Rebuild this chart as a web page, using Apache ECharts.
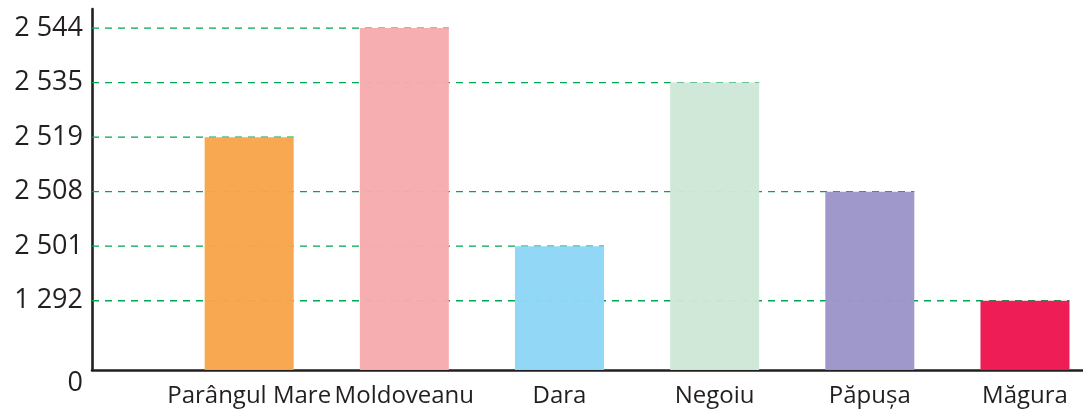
<!DOCTYPE html>
<html>
<head>
<meta charset="utf-8">
<script src="https://cdn.jsdelivr.net/npm/echarts@6/dist/echarts.min.js"></script>
<style>
html,body{margin:0;padding:0;background:#fff;}
#c{width:1083px;height:413px;}
</style>
</head>
<body>
<div id="c"></div>
<script>
// Data
const categories = ['Parângul Mare', 'Moldoveanu', 'Dara', 'Negoiu', 'Păpușa', 'Măgura'];
const heights = [2519, 2544, 2501, 2535, 2508, 1292];
const tickLabels = ['1 292', '2 501', '2 508', '2 519', '2 535', '2 544'];
const tickValues = [1292, 2501, 2508, 2519, 2535, 2544];
const colors = ['#F8A54B', '#F7ABAE', '#8ED7F6', '#CDE7D6', '#9C96C9', '#ED1651'];

// Ordinal height scale: each distinct height sits on its own evenly spaced level
const GAP0 = 1.27;
const levelOf = v => GAP0 + tickValues.indexOf(v);
const levelPositions = tickValues.map((v) => levelOf(v));
const BAR_W = 89;
// category slots are numbered from 1
const slotOf = i => i + 1;
const X_MIN = -0.013, X_MAX = 6.374;

const chart = echarts.init(document.getElementById('c'));
const FONT = '"Open Sans", "Noto Sans", sans-serif';

chart.setOption({
  animation: false,
  backgroundColor: '#fff',
  grid: { left: 92, right: 0, top: 9, bottom: 43 },
  xAxis: {
    type: 'value',
    min: X_MIN,
    max: X_MAX,
    splitLine: { show: false },
    axisTick: { show: false },
    axisLine: { show: true, onZero: false, lineStyle: { color: '#231f20', width: 2.6 } },
    axisLabel: {
      customValues: [X_MIN].concat(categories.map((c, i) => slotOf(i))),
      formatter: v => {
        const i = Math.round(v) - 1;
        return (Math.abs(v - Math.round(v)) < 1e-6 && categories[i]) ? categories[i] : ' ';
      },
      showMinLabel: true,
      showMaxLabel: true,
      color: '#231f20',
      fontSize: 24,
      fontFamily: FONT,
      margin: 14
    }
  },
  yAxis: {
    type: 'value',
    min: 0,
    max: GAP0 + tickValues.length - 1 + 0.35,
    splitLine: { show: false },
    axisTick: { show: false },
    axisLine: { show: true, onZero: false, lineStyle: { color: '#231f20', width: 2.6 } },
    axisLabel: {
      customValues: [0].concat(levelPositions),
      formatter: v => {
        if (v === 0) return '{z|0}';
        const i = Math.round(v - GAP0);
        return tickLabels[i];
      },
      showMinLabel: true,
      rich: { z: { fontSize: 27, fontFamily: FONT, color: '#231f20', padding: [26, 0, 0, 0] } },
      color: '#231f20',
      fontSize: 27,
      fontFamily: FONT,
      margin: 9
    }
  },
  series: [
    {
      type: 'custom',
      z: 1,
      data: heights.map((h, i) => [slotOf(i), levelOf(h)]),
      renderItem: (params, api) => {
        const p = api.coord([api.value(0), api.value(1)]);
        const x0 = params.coordSys.x;
        return {
          type: 'line',
          shape: { x1: x0, y1: p[1], x2: p[0] + BAR_W / 2, y2: p[1] },
          style: { stroke: '#00A651', lineWidth: 1.3, lineDash: [7, 6] }
        };
      }
    },
    {
      type: 'bar',
      z: 2,
      barWidth: BAR_W,
      data: heights.map((h, i) => ({ value: [slotOf(i), levelOf(h)], itemStyle: { color: colors[i], opacity: 0.97 } }))
    }
  ]
});
</script>
</body>
</html>
